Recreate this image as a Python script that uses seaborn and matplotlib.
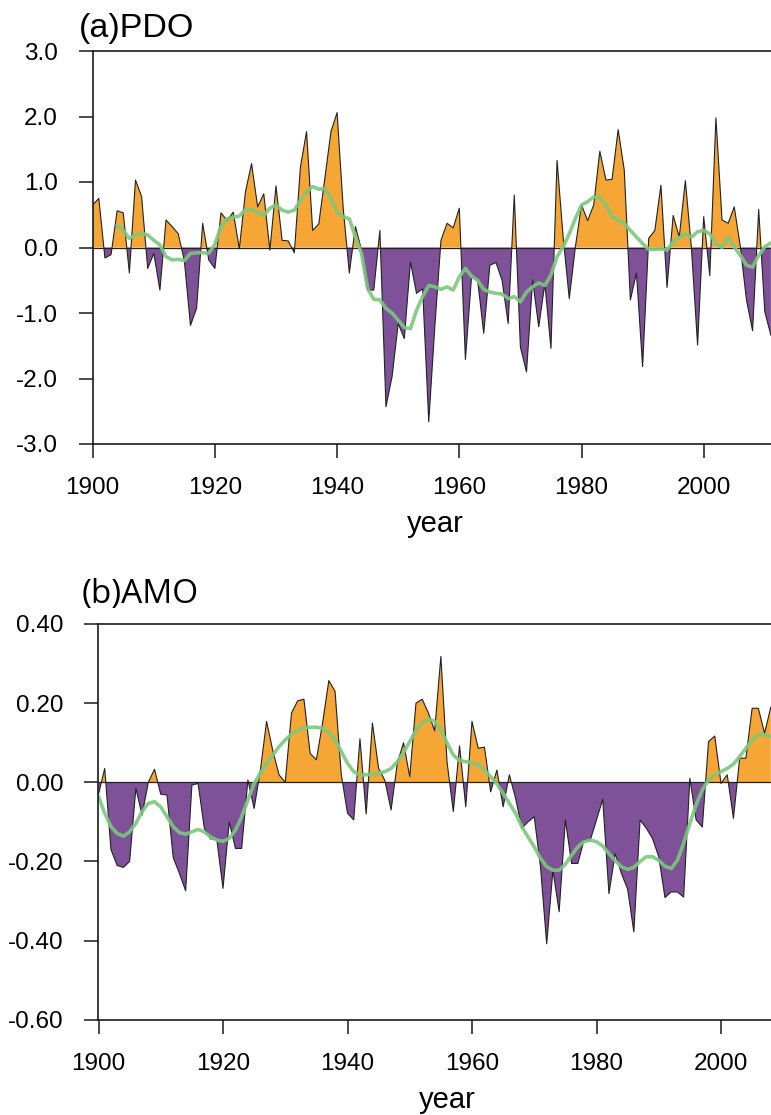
import numpy as np
import pandas as pd
import seaborn as sns
import matplotlib.pyplot as plt

# PDO annual index
pdo_years = list(range(1900, 2012))
pdo_values = [
    0.65, 0.75, -0.16, -0.11, 0.56, 0.53, -0.39, 1.03, 0.78, -0.32,
    -0.09, -0.65, 0.42, 0.32, 0.21, -0.20, -1.19, -0.93, 0.37, -0.19,
    -0.32, 0.53, 0.41, 0.54, -0.02, 0.85, 1.28, 0.62, 0.82, -0.04,
    0.94, 0.11, 0.10, -0.08, 1.23, 1.77, 0.26, 0.36, 1.06, 1.77,
    2.06, 0.60, -0.39, 0.32, -0.04, -0.65, -0.65, 0.26, -2.43, -1.97,
    -1.16, -1.39, -0.22, -0.70, -0.63, -2.66, -1.20, 0.11, 0.37, 0.30,
    0.60, -1.71, -0.45, -0.50, -1.31, -0.27, -0.23, -0.50, -1.16, 0.80,
    -1.52, -1.90, -0.50, -1.21, -0.55, -1.54, 1.33, 0.15, -0.78, 0.01,
    0.65, 0.41, 0.65, 1.47, 1.03, 1.04, 1.80, 1.18, -0.80, -0.39,
    -1.82, 0.14, 0.26, 0.95, -0.61, 0.49, 0.16, 1.02, -0.02, -1.49,
    0.47, -0.43, 1.98, 0.42, 0.37, 0.62, 0.01, -0.80, -1.27, 0.58,
    -0.98, -1.34,
]
# smoothed PDO (green curve)
pdo_smooth_years = list(range(1904, 2012))
pdo_smooth = [
    0.34, 0.26, 0.14, 0.19, 0.22, 0.19, 0.11, 0.04, -0.14, -0.19,
    -0.18, -0.20, -0.09, -0.08, -0.08, -0.09, 0.05, 0.32, 0.44, 0.46,
    0.48, 0.58, 0.58, 0.53, 0.49, 0.60, 0.65, 0.57, 0.54, 0.57,
    0.72, 0.85, 0.93, 0.89, 0.90, 0.75, 0.54, 0.47, 0.44, 0.16,
    -0.09, -0.63, -0.79, -0.80, -0.93, -1.00, -1.11, -1.22, -1.24, -0.96,
    -0.75, -0.58, -0.60, -0.64, -0.60, -0.65, -0.45, -0.32, -0.44, -0.50,
    -0.64, -0.68, -0.70, -0.71, -0.78, -0.75, -0.83, -0.68, -0.60, -0.54,
    -0.58, -0.42, -0.14, 0.01, 0.21, 0.44, 0.65, 0.70, 0.77, 0.76,
    0.65, 0.47, 0.42, 0.37, 0.26, 0.16, 0.06, -0.03, -0.03, -0.02,
    -0.04, 0.09, 0.15, 0.21, 0.16, 0.24, 0.26, 0.21, 0.06, 0.00,
    0.16, 0.01, -0.12, -0.27, -0.30, -0.12, 0.01, 0.07,
]

# AMO annual index
amo_years = list(range(1900, 2009))
amo_values = [
    -0.030, 0.035, -0.170, -0.210, -0.215, -0.200, -0.015, -0.083, 0.000, 0.033,
    -0.030, -0.032, -0.190, -0.230, -0.274, -0.007, -0.003, -0.116, -0.143, -0.144,
    -0.268, -0.100, -0.167, -0.167, 0.006, -0.066, 0.030, 0.154, 0.080, 0.019,
    0.000, 0.175, 0.206, 0.210, 0.073, 0.057, 0.150, 0.257, 0.230, 0.020,
    -0.078, -0.095, 0.110, -0.080, 0.150, 0.035, 0.005, -0.070, 0.048, 0.100,
    0.014, 0.200, 0.210, 0.175, 0.130, 0.318, 0.050, -0.074, 0.092, -0.062,
    0.154, 0.086, 0.089, -0.024, 0.031, -0.062, 0.019, -0.040, -0.116, -0.100,
    -0.087, -0.213, -0.408, -0.222, -0.327, -0.095, -0.205, -0.205, -0.146, -0.146,
    -0.095, -0.043, -0.281, -0.180, -0.230, -0.270, -0.378, -0.095, -0.116, -0.142,
    -0.188, -0.291, -0.277, -0.277, -0.290, 0.010, -0.095, -0.113, 0.103, 0.117,
    -0.003, 0.019, -0.091, 0.061, 0.061, 0.187, 0.187, 0.124, 0.190,
]
amo_smooth = [
    -0.036, -0.078, -0.112, -0.129, -0.136, -0.125, -0.104, -0.074, -0.053, -0.049,
    -0.062, -0.087, -0.112, -0.127, -0.131, -0.125, -0.119, -0.125, -0.138, -0.146,
    -0.149, -0.142, -0.121, -0.087, -0.045, -0.003, 0.023, 0.048, 0.069, 0.090,
    0.107, 0.122, 0.132, 0.138, 0.139, 0.139, 0.137, 0.126, 0.107, 0.078,
    0.048, 0.027, 0.019, 0.019, 0.021, 0.023, 0.027, 0.035, 0.052, 0.075,
    0.103, 0.131, 0.151, 0.160, 0.154, 0.132, 0.099, 0.069, 0.055, 0.052,
    0.050, 0.044, 0.031, 0.014, -0.004, -0.028, -0.053, -0.078, -0.112, -0.138,
    -0.163, -0.192, -0.213, -0.222, -0.222, -0.207, -0.184, -0.163, -0.150, -0.146,
    -0.150, -0.161, -0.180, -0.198, -0.213, -0.220, -0.215, -0.200, -0.188, -0.188,
    -0.197, -0.212, -0.218, -0.197, -0.154, -0.104, -0.057, -0.019, 0.006, 0.019,
    0.027, 0.035, 0.046, 0.065, 0.086, 0.107, 0.120, 0.120, 0.116,
]

pdo_ticks = [-3.0, -2.0, -1.0, 0.0, 1.0, 2.0, 3.0]
amo_ticks = [-0.6, -0.4, -0.2, 0.0, 0.2, 0.4]
year_ticks = [1900, 1920, 1940, 1960, 1980, 2000]

orange = "#F5A634"
purple = "#7F5199"
green = "#7CC87E"

sns.set_style("ticks")
plt.rcParams["font.family"] = ["Liberation Sans", "DejaVu Sans"]
plt.rcParams["text.color"] = "black"
plt.rcParams["axes.labelcolor"] = "black"
plt.rcParams["xtick.color"] = "black"
plt.rcParams["ytick.color"] = "black"

fig = plt.figure(figsize=(7.71, 11.15), dpi=100)
# axes run past the right edge of the figure, as in the reference
ax1 = fig.add_axes([92.7 / 771, 671 / 1115, 112 * 6.11 / 771, 393 / 1115])
ax2 = fig.add_axes([98.5 / 771, 95.2 / 1115, 112 * 6.225 / 771, 395.8 / 1115])


def draw_panel(ax, years, values, s_years, s_values, ylim, ticks, fmt):
    y = np.array(values)
    ax.fill_between(years, y, 0, where=y >= 0, interpolate=True,
                    color=orange, lw=0)
    ax.fill_between(years, y, 0, where=y <= 0, interpolate=True,
                    color=purple, lw=0)
    sns.lineplot(x=years, y=values, ax=ax, color="#222222", lw=0.8)
    ax.axhline(0, color="#222222", lw=0.9)
    sns.lineplot(x=s_years, y=s_values, ax=ax, color=green, lw=2.6,
                 alpha=0.9)
    ax.set_xlim(1900, 2012)
    ax.set_ylim(*ylim)
    ax.set_xticks(year_ticks)
    ax.set_yticks(ticks)
    ax.set_yticklabels([fmt.format(t) for t in ticks])
    ax.tick_params(axis="both", direction="out", length=10, width=1.1,
                   labelsize=17.5, color="#1a1a1a")
    ax.tick_params(axis="x", pad=14)
    ax.tick_params(axis="y", pad=15)
    for side in ["top", "left", "bottom"]:
        ax.spines[side].set_linewidth(1.2)
        ax.spines[side].set_color("#1a1a1a")
    ax.spines["right"].set_visible(False)
    ax.set_xlabel("year", fontsize=21, labelpad=8)
    ax.set_ylabel("")


draw_panel(ax1, pdo_years, pdo_values, pdo_smooth_years, pdo_smooth,
           (-3.0, 3.0), pdo_ticks, "{:.1f}")
draw_panel(ax2, amo_years, amo_values, amo_years, amo_smooth,
           (-0.6, 0.4), amo_ticks, "{:.2f}")

fig.text(79 / 771, 1 - 37 / 1115, "(a)PDO", fontsize=24.5, va="baseline",
         ha="left")
fig.text(82 / 771, 1 - 603.3 / 1115, "(b)AMO", fontsize=24, va="baseline",
         ha="left", family=["Open Sans", "DejaVu Sans"])

fig.savefig("out.png", dpi=100)
